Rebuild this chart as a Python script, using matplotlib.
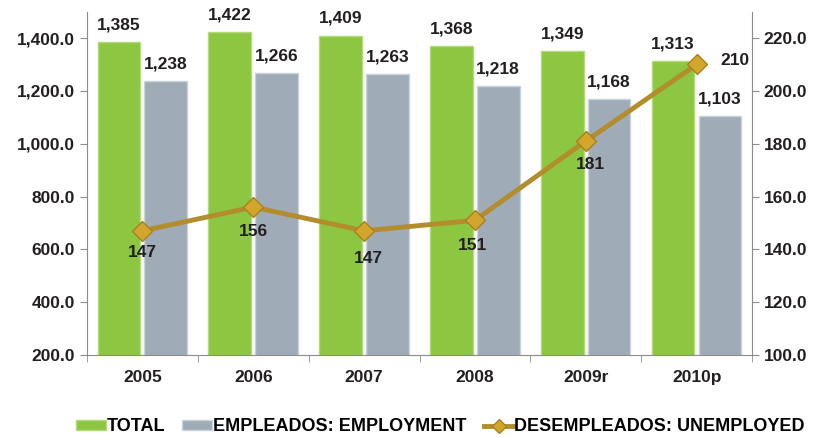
import matplotlib.pyplot as plt
import numpy as np
from matplotlib.lines import Line2D
from matplotlib.patches import Patch

anios = ['2005', '2006', '2007', '2008', '2009r', '2010p']
total = [1385, 1422, 1409, 1368, 1349, 1313]
empleados = [1238, 1266, 1263, 1218, 1168, 1103]
desempleados = [147, 156, 147, 151, 181, 210]

plt.rcParams['font.family'] = ['Liberation Sans', 'DejaVu Sans']

verde = '#8DC641'
gris = '#9FACB7'
oro = '#B38C2B'
texto = '#231F20'

fig = plt.figure(figsize=(8.14, 4.38), dpi=100)
ax = fig.add_axes([0.1069, 0.1895, 0.817, 0.784])
ax2 = ax.twinx()

x = np.arange(len(anios))
ancho = 0.385
b1 = ax.bar(x - 0.212, total, ancho, color=verde, edgecolor='#B2DA78', linewidth=1.0)
b2 = ax.bar(x + 0.21, empleados, ancho, color=gris, edgecolor='#C8D2DA', linewidth=1.0)

for xi, v in zip(x, total):
    ax.annotate(f'{v:,}', (xi - 0.212, v), xytext=(0, 7), textcoords='offset points',
                ha='center', va='bottom', fontsize=12.5, fontweight='bold', color=texto)
for xi, v in zip(x, empleados):
    ax.annotate(f'{v:,}', (xi + 0.21, v), xytext=(0, 7), textcoords='offset points',
                ha='center', va='bottom', fontsize=12.5, fontweight='bold', color=texto)

ax2.plot(x, desempleados, color=oro, linewidth=3.5, marker='D', markersize=10,
         markerfacecolor='#D2A52C', markeredgecolor='#A8801F', zorder=5)

# desplazamientos (pixeles) de las etiquetas de la linea
desp = [(0, -22), (0, -24), (4, -28), (-2, -25), (5, -23), (38, 4)]
for i, v in enumerate(desempleados):
    dx, dy = desp[i]
    ax2.annotate(f'{v}', (x[i], v), xytext=(dx * 0.72, dy * 0.72), textcoords='offset points',
                 ha='center', va='center', fontsize=12.5, fontweight='bold', color=texto)

ax.set_ylim(200, 1500)
ax2.set_ylim(100, 230)
ax.set_xlim(-0.5, 5.5)
ax.set_yticks(np.arange(200, 1401, 200))
ax2.set_yticks(np.arange(100, 221, 20))
ax.set_yticklabels([f'{v:,.1f}' for v in np.arange(200, 1401, 200)])
ax2.set_yticklabels([f'{v:.1f}' for v in np.arange(100, 221, 20)])
ax.set_xticks(x)
ax.set_xticklabels(anios)
ax.set_xticks(np.arange(-0.5, 5.6, 1), minor=True)

for a in (ax, ax2):
    a.spines['top'].set_visible(False)
    a.tick_params(labelsize=12.5, labelcolor=texto, color='#8C8C8C', length=5, width=0.8)
    for lab in a.get_yticklabels() + a.get_xticklabels():
        lab.set_fontweight('bold')
ax.spines['right'].set_visible(False)
ax2.spines['left'].set_visible(False)
ax2.spines['bottom'].set_visible(False)
ax.spines['left'].set_color('#8C8C8C')
ax.spines['bottom'].set_color('#8C8C8C')
ax2.spines['right'].set_color('#8C8C8C')
ax.tick_params(axis='x', which='major', length=0, pad=11)
ax.tick_params(axis='x', which='minor', length=5, color='#8C8C8C')

handles = [
    Patch(facecolor=verde, edgecolor='#B2DA78'),
    Patch(facecolor=gris, edgecolor='#C8D2DA'),
    Line2D([0], [0], color=oro, linewidth=3.5, marker='D', markersize=7,
           markerfacecolor='#D2A52C', markeredgecolor='#A8801F'),
]
etiquetas = ['TOTAL', 'EMPLEADOS: EMPLOYMENT', 'DESEMPLEADOS: UNEMPLOYED']
fig.legend(handles, etiquetas, loc='lower center', bbox_to_anchor=(0.541, 0.0), ncol=3,
           frameon=False, prop={'weight': 'bold', 'size': 13}, borderaxespad=0,
           borderpad=0.15, handlelength=1.65, handleheight=0.5, handletextpad=0.05,
           columnspacing=0.95)

fig.savefig('out.png', dpi=100)
